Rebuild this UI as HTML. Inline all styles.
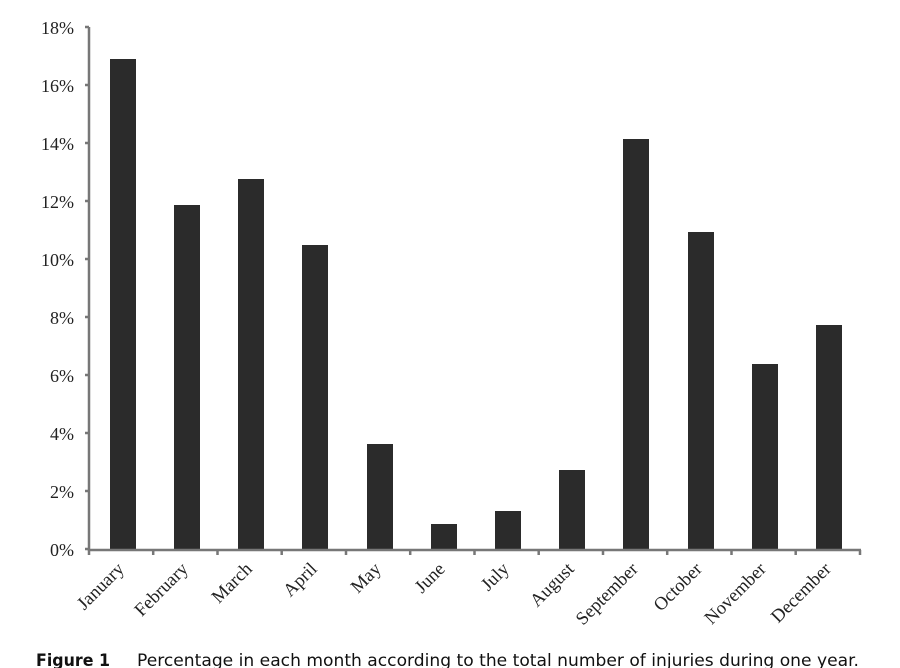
<!DOCTYPE html>
<html><head><meta charset="utf-8"><style>
html,body{margin:0;padding:0;background:#fff;overflow:hidden}
svg{display:block}
</style></head><body>
<svg width="900" height="668" viewBox="0 0 900 668" xmlns="http://www.w3.org/2000/svg">
<rect width="900" height="668" fill="#fff"/>
<g font-family="Liberation Serif, serif" font-size="18" fill="#222" text-anchor="end">
<text x="74" y="34">18%</text>
<text x="74" y="92">16%</text>
<text x="74" y="150">14%</text>
<text x="74" y="208">12%</text>
<text x="74" y="266">10%</text>
<text x="74" y="324">8%</text>
<text x="74" y="382">6%</text>
<text x="74" y="440">4%</text>
<text x="74" y="498">2%</text>
<text x="74" y="556">0%</text>
</g>
<g fill="#2b2b2b">
<rect x="110" y="59" width="26" height="491"/>
<rect x="174" y="205" width="26" height="345"/>
<rect x="238" y="179" width="26" height="371"/>
<rect x="302" y="245" width="26" height="305"/>
<rect x="367" y="444" width="26" height="106"/>
<rect x="431" y="524" width="26" height="26"/>
<rect x="495" y="511" width="26" height="39"/>
<rect x="559" y="470" width="26" height="80"/>
<rect x="623" y="139" width="26" height="411"/>
<rect x="688" y="232" width="26" height="318"/>
<rect x="752" y="364" width="26" height="186"/>
<rect x="816" y="325" width="26" height="225"/>
</g>
<g stroke="#777" stroke-width="2.5" fill="none">
<line x1="89" y1="27" x2="89" y2="551"/>
<line x1="88" y1="550" x2="861" y2="550"/>
<path d="M85 27H89M85 85H89M85 143H89M85 201H89M85 259H89M85 317H89M85 375H89M85 433H89M85 491H89M85 549H89"/>
<path d="M89 550V555M153.2 550V555M217.5 550V555M281.7 550V555M346 550V555M410.2 550V555M474.5 550V555M538.7 550V555M603 550V555M667.2 550V555M731.5 550V555M795.7 550V555M860 550V555"/>
</g>
<g font-family="Liberation Serif, serif" font-size="18.5" fill="#222" text-anchor="end">
<text transform="translate(125,570) rotate(-45)">January</text>
<text transform="translate(189,570) rotate(-45)">February</text>
<text transform="translate(253,570) rotate(-45)">March</text>
<text transform="translate(318,570) rotate(-45)">April</text>
<text transform="translate(382,570) rotate(-45)">May</text>
<text transform="translate(446,570) rotate(-45)">June</text>
<text transform="translate(510,570) rotate(-45)">July</text>
<text transform="translate(575,570) rotate(-45)">August</text>
<text transform="translate(639,570) rotate(-45)">September</text>
<text transform="translate(703,570) rotate(-45)">October</text>
<text transform="translate(767,570) rotate(-45)">November</text>
<text transform="translate(832,570) rotate(-45)">December</text>
</g>
<g font-family="DejaVu Sans, sans-serif" font-size="17" fill="#111">
<text x="36" y="666" font-weight="bold" textLength="74" lengthAdjust="spacingAndGlyphs">Figure 1</text>
<text x="137" y="666" textLength="722" lengthAdjust="spacingAndGlyphs">Percentage in each month according to the total number of injuries during one year.</text>
</g>
</svg>
</body></html>
